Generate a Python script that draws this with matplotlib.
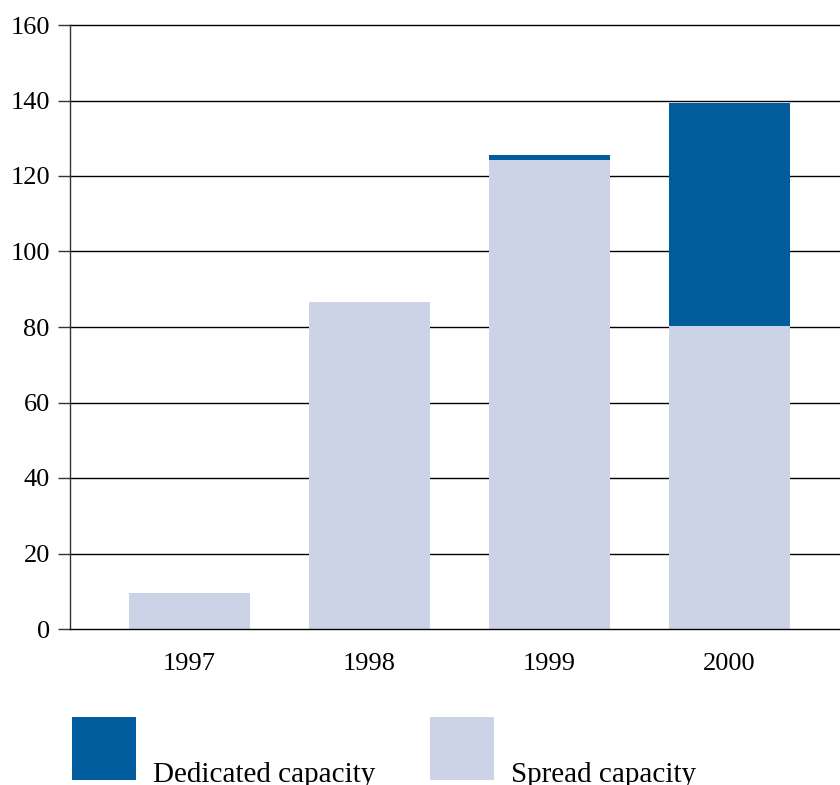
import matplotlib
matplotlib.use("Agg")
import matplotlib.pyplot as plt
from matplotlib.patches import Rectangle

years = ["1997", "1998", "1999", "2000"]
spread = [9.5, 86.6, 124.2, 80.2]
dedicated = [0, 0, 1.4, 59.1]
series_labels = ["Dedicated capacity", "Spread capacity"]
colors = ["#005C9C", "#CDD3E7"]
yticks = [0, 20, 40, 60, 80, 100, 120, 140, 160]

plt.rcParams['font.family'] = ['Liberation Serif', 'DejaVu Serif']

fig = plt.figure(figsize=(8.4, 7.85), dpi=100)
ax = fig.add_axes([70/840, 1-629/785, 1-70/840, (629-25)/785])

x = list(range(len(years)))
w = 0.672
ax.bar(x, spread, width=w, color=colors[1], linewidth=0, zorder=2)
ax.bar(x, dedicated, width=w, bottom=spread, color=colors[0], linewidth=0, zorder=2)

ax.set_xlim(-0.661, 3.614)
ax.set_ylim(0, 160)
ax.set_yticks(yticks)
ax.set_yticklabels([str(t) for t in yticks], fontsize=19)
ax.set_xticks(x)
ax.set_xticklabels(years, fontsize=19)
ax.tick_params(axis='x', length=0, pad=17)
ax.tick_params(axis='y', length=8.5, width=1, color='#333333', pad=6)
for t in yticks[1:]:
    ax.axhline(t, color='black', lw=1, zorder=1, clip_on=False)
for s in ['top', 'right']:
    ax.spines[s].set_visible(False)
ax.spines['left'].set_color('#333333')
ax.spines['left'].set_linewidth(1)
ax.spines['bottom'].set_color('black')
ax.spines['bottom'].set_linewidth(1)
ax.spines['bottom'].set_zorder(3)

# legend
leg_x = [72, 430]
for lx, lab, c in zip(leg_x, series_labels, colors):
    fig.add_artist(Rectangle((lx/840, 1-780/785), 64/840, 63/785,
                             transform=fig.transFigure, color=c, lw=0))
    fig.text((lx+81)/840, 1-782/785, lab, fontsize=21, ha='left', va='baseline')

fig.savefig("out.png", dpi=100)
